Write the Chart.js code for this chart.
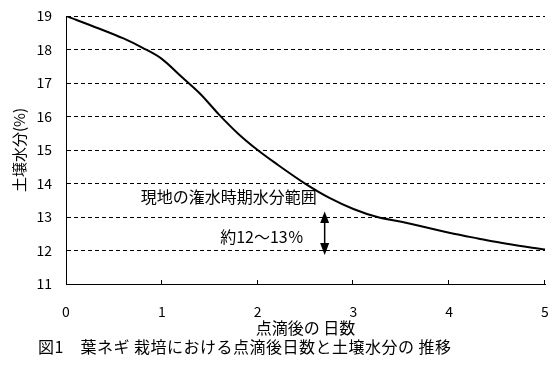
<!DOCTYPE html>
<html>
<head>
<meta charset="utf-8">
<script src="https://cdn.jsdelivr.net/npm/chart.js@4"></script>
<style>
html,body{margin:0;padding:0;background:#fff;}
canvas{display:block;}
</style>
</head>
<body>
<canvas id="c" width="558" height="382"></canvas>
<script>
// ---- data ----
const daysAfterDrip = [0, 0.35, 0.6, 0.8, 1.0, 1.2, 1.4, 1.6, 1.8, 2.0, 2.2, 2.5, 2.75, 3.0, 3.25, 3.5, 4.0, 4.3, 4.6, 5.0];
const soilMoisture  = [19.0, 18.62, 18.33, 18.05, 17.72, 17.2, 16.68, 16.05, 15.48, 15.0, 14.58, 13.99, 13.57, 13.24, 13.0, 12.86, 12.53, 12.36, 12.2, 12.03];
const xTicks = [0, 1, 2, 3, 4, 5];
const yTicks = [11, 12, 13, 14, 15, 16, 17, 18, 19];
const rangeLow = 12, rangeHigh = 13, rangeDay = 2.7;

const xTitle = '点滴後の 日数';
const yTitle = '土壌水分(%)';
const caption = '図1　葉ネギ 栽培における点滴後日数と土壌水分の 推移';
const note1 = '現地の潅水時期水分範囲';
const note2 = '約12～13％';

const FONT = "'Noto Sans CJK JP', 'DejaVu Sans', sans-serif";

const extras = {
  id: 'extras',
  beforeDraw(chart) {
    const ctx = chart.ctx;
    ctx.save();
    ctx.fillStyle = '#fff';
    ctx.fillRect(0, 0, chart.width, chart.height);
    ctx.restore();
  },
  afterDatasetsDraw(chart) {
    const ctx = chart.ctx;
    const xs = chart.scales.x, ys = chart.scales.y;
    const bottom = chart.chartArea.bottom;
    ctx.save();
    // inward tick marks on x axis
    ctx.strokeStyle = '#000';
    ctx.lineWidth = 1;
    ctx.beginPath();
    xTicks.forEach(v => {
      if (v === xTicks[0]) return;
      const px = Math.round(xs.getPixelForValue(v)) - 0.5;
      ctx.moveTo(px, bottom);
      ctx.lineTo(px, bottom - 4);
    });
    ctx.stroke();

    // double arrow
    const ax = xs.getPixelForValue(rangeDay);
    const yTop = ys.getPixelForValue(rangeHigh);
    const yBot = ys.getPixelForValue(rangeLow);
    ctx.lineWidth = 1.5;
    ctx.beginPath();
    ctx.moveTo(ax, yTop);
    ctx.lineTo(ax, yBot);
    ctx.stroke();
    ctx.fillStyle = '#000';
    ctx.beginPath();
    ctx.moveTo(ax, yTop - 5.5);
    ctx.lineTo(ax - 4.5, yTop + 6);
    ctx.lineTo(ax + 4.5, yTop + 6);
    ctx.closePath();
    ctx.fill();
    ctx.beginPath();
    ctx.moveTo(ax, yBot + 4.5);
    ctx.lineTo(ax - 4.5, yBot - 7.5);
    ctx.lineTo(ax + 4.5, yBot - 7.5);
    ctx.closePath();
    ctx.fill();

    // notes
    ctx.font = '16px ' + FONT;
    ctx.textAlign = 'right';
    ctx.textBaseline = 'middle';
    ctx.fillText(note1, ax - 8, ys.getPixelForValue(13.6));
    ctx.fillText(note2, ax - 21, ys.getPixelForValue(12.42));

    // caption
    ctx.textAlign = 'left';
    if ('letterSpacing' in ctx) ctx.letterSpacing = '0.5px';
    ctx.fillText(caption, 38, 347);
    ctx.restore();
  }
};

new Chart(document.getElementById('c'), {
  type: 'line',
  data: {
    datasets: [{
      data: daysAfterDrip.map((d, i) => ({x: d, y: soilMoisture[i]})),
      borderColor: '#000',
      borderWidth: 2,
      pointRadius: 0,
      fill: false,
      cubicInterpolationMode: 'monotone'
    }]
  },
  options: {
    responsive: false,
    animation: false,
    layout: {padding: {top: 16, right: 13, bottom: 44, left: 0}},
    plugins: {legend: {display: false}, tooltip: {enabled: false}, title: {display: false}},
    scales: {
      x: {
        type: 'linear',
        min: 0, max: 5,
        afterBuildTicks(s) { s.ticks = xTicks.map(v => ({value: v})); },
        afterFit(s) { s.height = 54; s.paddingLeft = 0; s.paddingRight = 0; },
        grid: {display: false, drawTicks: false},
        border: {display: true, color: '#000', width: 1},
        ticks: {color: '#000', font: {family: FONT, size: 14}, padding: 19, maxRotation: 0},
        title: {display: true, text: xTitle, color: '#000', font: {family: FONT, size: 16}, padding: {top: 0, bottom: 0}}
      },
      y: {
        type: 'linear',
        min: 11, max: 19,
        afterBuildTicks(s) { s.ticks = yTicks.map(v => ({value: v})); },
        afterFit(s) { s.width = 66; s.paddingTop = 0; s.paddingBottom = 0; },
        grid: {
          display: true, drawTicks: false,
          color: c => (c.tick && c.tick.value === yTicks[0]) ? 'rgba(0,0,0,0)' : '#000',
          lineWidth: 1
        },
        border: {display: true, color: '#000', width: 1, dash: [4, 3]},
        ticks: {color: '#000', font: {family: FONT, size: 14}, padding: 14},
        title: {display: true, text: yTitle, color: '#000', font: {family: FONT, size: 15}, padding: {top: 10, bottom: 0}}
      }
    }
  },
  plugins: [extras]
});
</script>
</body>
</html>
